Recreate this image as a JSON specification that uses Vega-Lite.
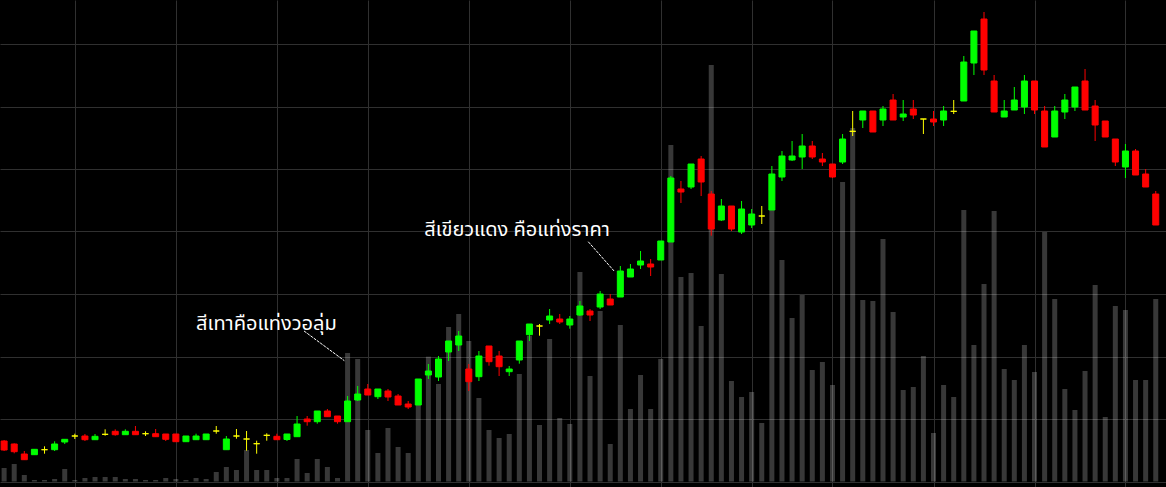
{
  "$schema": "https://vega.github.io/schema/vega-lite/v6.json",
  "width": 1166,
  "height": 487,
  "autosize": {"type": "fit", "contains": "padding"},
  "padding": 0,
  "background": "#000000",
  "config": {"view": {"stroke": null}, "axis": {"minExtent": 0, "maxExtent": 0, "labelPadding": 0, "tickSize": 0, "titlePadding": 0, "offset": 0}},
  "data": {"values": [
    {"i":0,"o":6.48,"h":6.64,"l":4.88,"c":5.04,"v":13.5},
    {"i":1,"o":6.00,"h":6.10,"l":4.51,"c":4.77,"v":17.5},
    {"i":2,"o":4.40,"h":4.88,"l":3.49,"c":3.49,"v":6.5},
    {"i":3,"o":4.29,"h":5.15,"l":4.29,"c":5.15,"v":1.5},
    {"i":4,"o":5.09,"h":5.63,"l":4.45,"c":5.09,"v":1.5},
    {"i":5,"o":5.09,"h":6.43,"l":4.88,"c":6.00,"v":2.5},
    {"i":6,"o":6.32,"h":6.75,"l":6.00,"c":6.75,"v":12.5},
    {"i":7,"o":7.28,"h":7.65,"l":6.80,"c":7.28,"v":1.5},
    {"i":8,"o":7.28,"h":7.60,"l":6.48,"c":6.69,"v":3.5},
    {"i":9,"o":6.69,"h":7.60,"l":6.69,"c":7.23,"v":4.5},
    {"i":10,"o":7.55,"h":8.35,"l":7.33,"c":7.55,"v":4.5},
    {"i":11,"o":8.03,"h":8.35,"l":7.33,"c":7.49,"v":4.5},
    {"i":12,"o":7.49,"h":8.35,"l":7.49,"c":8.03,"v":2.5},
    {"i":13,"o":8.03,"h":8.88,"l":7.49,"c":7.49,"v":2.5},
    {"i":14,"o":7.65,"h":8.03,"l":7.28,"c":7.65,"v":1.5},
    {"i":15,"o":7.65,"h":8.40,"l":7.17,"c":7.17,"v":1.5},
    {"i":16,"o":7.60,"h":7.60,"l":6.48,"c":6.75,"v":3.5},
    {"i":17,"o":7.60,"h":7.60,"l":6.37,"c":6.37,"v":2.5},
    {"i":18,"o":6.37,"h":7.28,"l":6.37,"c":7.28,"v":1.5},
    {"i":19,"o":6.69,"h":7.65,"l":6.69,"c":7.28,"v":3.5},
    {"i":20,"o":6.69,"h":7.60,"l":6.69,"c":7.60,"v":2.5},
    {"i":21,"o":8.08,"h":8.88,"l":7.65,"c":8.08,"v":9.5},
    {"i":22,"o":5.09,"h":7.28,"l":5.09,"c":6.80,"v":14.5},
    {"i":23,"o":7.28,"h":8.40,"l":6.85,"c":7.28,"v":11.5},
    {"i":24,"o":6.80,"h":8.08,"l":4.93,"c":6.80,"v":31.5},
    {"i":25,"o":6.05,"h":6.53,"l":4.45,"c":6.05,"v":11.5},
    {"i":26,"o":7.39,"h":7.71,"l":6.53,"c":7.39,"v":11.5},
    {"i":27,"o":7.23,"h":7.65,"l":6.69,"c":6.69,"v":3.5},
    {"i":28,"o":6.72,"h":7.60,"l":6.48,"c":7.60,"v":3.5},
    {"i":29,"o":7.17,"h":10.48,"l":7.17,"c":9.20,"v":22.5},
    {"i":30,"o":10.00,"h":10.48,"l":8.93,"c":9.57,"v":8.5},
    {"i":31,"o":9.57,"h":11.28,"l":9.25,"c":11.28,"v":22.5},
    {"i":32,"o":11.28,"h":11.60,"l":10.37,"c":10.37,"v":14.5},
    {"i":33,"o":10.48,"h":10.48,"l":9.25,"c":9.57,"v":3.5},
    {"i":34,"o":9.57,"h":13.68,"l":9.57,"c":12.88,"v":128.5},
    {"i":35,"o":13.04,"h":15.28,"l":12.88,"c":14.00,"v":122.5},
    {"i":36,"o":14.80,"h":15.60,"l":13.84,"c":13.84,"v":51.5},
    {"i":37,"o":13.57,"h":14.80,"l":13.20,"c":14.80,"v":28.5},
    {"i":38,"o":14.48,"h":14.80,"l":12.88,"c":13.52,"v":53.5},
    {"i":39,"o":13.68,"h":14.00,"l":12.24,"c":12.24,"v":34.5},
    {"i":40,"o":12.40,"h":12.88,"l":11.60,"c":11.92,"v":28.5},
    {"i":41,"o":12.24,"h":16.40,"l":12.24,"c":16.40,"v":81.5},
    {"i":42,"o":17.04,"h":18.80,"l":16.40,"c":17.68,"v":124.8},
    {"i":43,"o":16.72,"h":20.08,"l":16.08,"c":19.60,"v":97.5},
    {"i":44,"o":20.72,"h":22.48,"l":19.28,"c":22.48,"v":154.5},
    {"i":45,"o":21.84,"h":24.08,"l":20.88,"c":23.28,"v":167.5},
    {"i":46,"o":18.00,"h":18.80,"l":14.48,"c":15.97,"v":140.5},
    {"i":47,"o":16.77,"h":20.88,"l":16.08,"c":20.08,"v":83.5},
    {"i":48,"o":21.68,"h":21.68,"l":18.53,"c":19.17,"v":51.5},
    {"i":49,"o":20.08,"h":20.88,"l":16.88,"c":18.37,"v":43.5},
    {"i":50,"o":17.57,"h":18.48,"l":16.88,"c":18.00,"v":47.5},
    {"i":51,"o":19.44,"h":22.48,"l":18.85,"c":22.48,"v":107.5},
    {"i":52,"o":23.49,"h":25.20,"l":22.48,"c":25.20,"v":145.5},
    {"i":53,"o":24.88,"h":25.20,"l":23.33,"c":24.88,"v":56.5},
    {"i":54,"o":25.84,"h":27.60,"l":25.20,"c":26.48,"v":142.5},
    {"i":55,"o":26.00,"h":26.80,"l":25.20,"c":25.52,"v":63.5},
    {"i":56,"o":25.04,"h":26.48,"l":24.45,"c":26.00,"v":57.5},
    {"i":57,"o":26.64,"h":28.88,"l":26.48,"c":28.08,"v":209.5},
    {"i":58,"o":27.28,"h":27.60,"l":25.68,"c":26.64,"v":105.5},
    {"i":59,"o":27.92,"h":30.48,"l":27.60,"c":30.00,"v":170.5},
    {"i":60,"o":29.20,"h":30.00,"l":28.24,"c":28.24,"v":37.5},
    {"i":61,"o":29.52,"h":34.48,"l":29.52,"c":33.68,"v":156.5},
    {"i":62,"o":32.72,"h":34.80,"l":32.72,"c":34.00,"v":72.5},
    {"i":63,"o":34.64,"h":36.88,"l":34.00,"c":35.28,"v":106.5},
    {"i":64,"o":34.80,"h":35.60,"l":32.88,"c":34.32,"v":72.5},
    {"i":65,"o":35.44,"h":38.48,"l":35.44,"c":38.48,"v":122.5},
    {"i":66,"o":38.32,"h":48.88,"l":38.32,"c":48.56,"v":336.5},
    {"i":67,"o":46.80,"h":48.08,"l":44.56,"c":46.32,"v":204.5},
    {"i":68,"o":47.12,"h":50.80,"l":46.80,"c":50.80,"v":208.5},
    {"i":69,"o":51.60,"h":52.08,"l":45.68,"c":47.92,"v":155.5},
    {"i":70,"o":46.00,"h":46.48,"l":39.33,"c":40.40,"v":416.5},
    {"i":71,"o":41.84,"h":45.20,"l":41.68,"c":44.08,"v":207.5},
    {"i":72,"o":44.08,"h":44.08,"l":40.08,"c":40.40,"v":100.5},
    {"i":73,"o":39.92,"h":44.88,"l":39.60,"c":43.60,"v":84.5},
    {"i":74,"o":41.04,"h":43.60,"l":40.56,"c":42.80,"v":89.5},
    {"i":75,"o":42.48,"h":44.08,"l":41.20,"c":42.48,"v":58.5},
    {"i":76,"o":43.44,"h":50.48,"l":43.44,"c":49.20,"v":276.5},
    {"i":77,"o":48.72,"h":52.88,"l":48.08,"c":52.08,"v":221.5},
    {"i":78,"o":51.44,"h":54.48,"l":51.28,"c":52.08,"v":163.5},
    {"i":79,"o":51.92,"h":55.60,"l":50.00,"c":53.68,"v":186.5},
    {"i":80,"o":53.68,"h":54.48,"l":51.60,"c":51.92,"v":111.5},
    {"i":81,"o":51.60,"h":52.56,"l":50.48,"c":51.12,"v":119.5},
    {"i":82,"o":50.80,"h":50.80,"l":48.56,"c":48.72,"v":96.5},
    {"i":83,"o":51.12,"h":55.60,"l":50.80,"c":54.80,"v":299.5},
    {"i":84,"o":56.03,"h":59.28,"l":55.28,"c":56.03,"v":353.5},
    {"i":85,"o":57.84,"h":59.28,"l":56.56,"c":59.28,"v":181.5},
    {"i":86,"o":59.28,"h":59.28,"l":55.92,"c":55.92,"v":180.5},
    {"i":87,"o":57.84,"h":60.08,"l":56.88,"c":59.60,"v":242.5},
    {"i":88,"o":61.04,"h":62.00,"l":57.84,"c":57.84,"v":169.5},
    {"i":89,"o":58.32,"h":61.04,"l":57.68,"c":58.80,"v":91.5},
    {"i":90,"o":59.60,"h":61.04,"l":58.00,"c":58.64,"v":94.5},
    {"i":91,"o":58.00,"h":58.00,"l":55.60,"c":58.00,"v":125.5},
    {"i":92,"o":58.00,"h":59.28,"l":56.88,"c":57.52,"v":48.5},
    {"i":93,"o":57.84,"h":60.08,"l":56.88,"c":59.28,"v":96.5},
    {"i":94,"o":59.23,"h":61.04,"l":58.80,"c":59.23,"v":84.5},
    {"i":95,"o":60.88,"h":68.08,"l":60.88,"c":67.12,"v":271.5},
    {"i":96,"o":66.96,"h":72.08,"l":65.04,"c":72.08,"v":136.5},
    {"i":97,"o":74.00,"h":75.12,"l":65.04,"c":65.84,"v":197.5},
    {"i":98,"o":64.08,"h":65.04,"l":59.12,"c":59.12,"v":270.5},
    {"i":99,"o":58.32,"h":61.04,"l":58.32,"c":59.28,"v":112.5},
    {"i":100,"o":59.44,"h":63.12,"l":59.44,"c":61.04,"v":101.5},
    {"i":101,"o":59.92,"h":65.04,"l":58.80,"c":64.08,"v":136.5},
    {"i":102,"o":64.08,"h":64.08,"l":58.80,"c":59.44,"v":109.5},
    {"i":103,"o":59.28,"h":60.08,"l":53.52,"c":53.52,"v":249.5},
    {"i":104,"o":55.12,"h":60.08,"l":55.12,"c":59.28,"v":182.5},
    {"i":105,"o":59.12,"h":62.00,"l":58.00,"c":61.04,"v":92.5},
    {"i":106,"o":59.92,"h":63.12,"l":59.28,"c":63.12,"v":71.5},
    {"i":107,"o":64.08,"h":66.00,"l":59.44,"c":59.44,"v":110.5},
    {"i":108,"o":60.08,"h":61.04,"l":54.48,"c":57.04,"v":196.5},
    {"i":109,"o":57.68,"h":57.68,"l":55.12,"c":55.12,"v":64.5},
    {"i":110,"o":54.80,"h":54.80,"l":50.48,"c":51.12,"v":175.5},
    {"i":111,"o":50.32,"h":54.00,"l":48.56,"c":52.88,"v":171.5},
    {"i":112,"o":52.88,"h":53.20,"l":49.04,"c":49.04,"v":101.5},
    {"i":113,"o":49.20,"h":50.00,"l":47.12,"c":47.12,"v":101.5},
    {"i":114,"o":46.00,"h":46.48,"l":41.04,"c":41.04,"v":182.5}
  ]},
  "layer": [
    {
      "mark": {"type": "bar", "size": 5, "color": "#ffffff", "opacity": 0.22, "clip": true},
      "encoding": {
        "x": {"field": "i", "type": "quantitative",
              "scale": {"domain": [0.088, 114.52], "nice": false, "zero": false},
              "axis": {"values": [7,17,27,36,46,56,65,74,82,92,102,111], "grid": true, "gridColor": "#303030", "gridWidth": 1, "labels": false, "ticks": false, "domain": false, "title": null}},
        "y": {"field": "v", "type": "quantitative", "scale": {"domain": [-5.5, 481.5], "nice": false, "zero": false}, "axis": null},
        "y2": {"datum": 0}
      }
    },
    {
      "layer": [
        {
          "mark": {"type": "rule", "strokeWidth": 1, "clip": true},
          "encoding": {
            "x": {"field": "i", "type": "quantitative"},
            "y": {"field": "l", "type": "quantitative",
                  "scale": {"domain": [-0.88, 77.04], "nice": false, "zero": false},
                  "axis": {"values": [0,10,20,30,40,50,60,70], "grid": true, "gridColor": "#303030", "gridWidth": 1, "labels": false, "ticks": false, "domain": false, "title": null}},
            "y2": {"field": "h"},
            "color": {"condition": [{"test": "datum.c > datum.o", "value": "#00ff00"}, {"test": "datum.c < datum.o", "value": "#ff0000"}], "value": "#ffff00"}
          }
        },
        {
          "mark": {"type": "bar", "size": 6, "strokeWidth": 1, "clip": true},
          "encoding": {
            "x": {"field": "i", "type": "quantitative"},
            "y": {"field": "o", "type": "quantitative"},
            "y2": {"field": "c"},
            "color": {"condition": [{"test": "datum.c > datum.o", "value": "#00ff00"}, {"test": "datum.c < datum.o", "value": "#ff0000"}], "value": "#ffff00"},
            "stroke": {"condition": [{"test": "datum.c > datum.o", "value": "#00ff00"}, {"test": "datum.c < datum.o", "value": "#ff0000"}], "value": "#ffff00"}
          }
        },
        {
          "data": {"values": [
            {"i": 29.69, "p": 24.08, "i2": 33.68, "p2": 19.33},
            {"i": 57.82, "p": 38.37, "i2": 60.44, "p2": 33.57}
          ]},
          "mark": {"type": "rule", "color": "#ffffff", "strokeWidth": 1, "strokeDash": [3, 1]},
          "encoding": {
            "x": {"field": "i", "type": "quantitative"},
            "x2": {"field": "i2"},
            "y": {"field": "p", "type": "quantitative"},
            "y2": {"field": "p2"}
          }
        },
        {
          "data": {"values": [
            {"i": 19.0, "p": 24.24, "t": "สีเทาคือแท่งวอลุ่ม"},
            {"i": 41.6, "p": 39.28, "t": "สีเขียวแดง คือแท่งราคา"}
          ]},
          "mark": {"type": "text", "align": "left", "baseline": "alphabetic", "color": "#ffffff", "fontSize": 20, "font": "Tahoma, 'Noto Sans Thai', 'Noto Sans', sans-serif"},
          "encoding": {
            "x": {"field": "i", "type": "quantitative"},
            "y": {"field": "p", "type": "quantitative"},
            "text": {"field": "t"}
          }
        }
      ]
    }
  ],
  "resolve": {"scale": {"y": "independent"}}
}
